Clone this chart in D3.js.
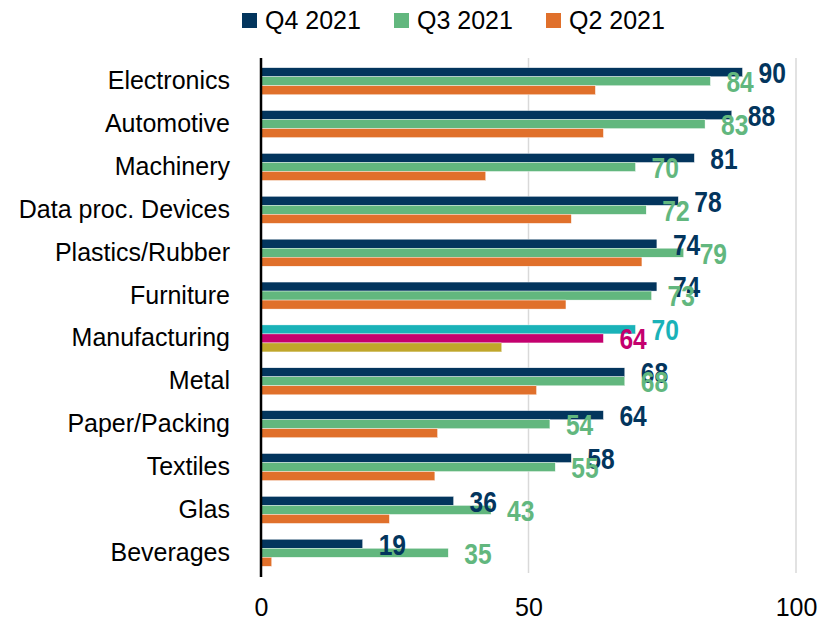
<!DOCTYPE html>
<html>
<head>
<meta charset="utf-8">
<script src="https://cdn.jsdelivr.net/npm/d3@7"></script>
<style>
  body { margin: 0; background: #fff; }
  svg text { font-family: "Liberation Sans", Arial, sans-serif; }
  .val { font-weight: bold; }
</style>
</head>
<body>
<div id="chart"></div>
<script>
var categories = ["Electronics", "Automotive", "Machinery", "Data proc. Devices", "Plastics/Rubber",
  "Furniture", "Manufacturing", "Metal", "Paper/Packing", "Textiles", "Glas", "Beverages"];
var seriesNames = ["Q4 2021", "Q3 2021", "Q2 2021"];
var q4 = [90, 88, 81, 78, 74, 74, 70, 68, 64, 58, 36, 19];
var q3 = [84, 83, 70, 72, 79, 73, 64, 68, 54, 55, 43, 35];
var q2 = [62.5, 64, 42, 58, 71.2, 57, 45, 51.5, 33, 32.5, 24, 2];
var xTicks = [0, 50, 100];

var colors = ["#03355d", "#62b77e", "#e0702b"];
var highlightCat = "Manufacturing";
var highlightColors = ["#1ab2b8", "#c4006e", "#c0a62b"];

var width = 819, height = 628;

var svg = d3.select("#chart").append("svg")
    .attr("width", width)
    .attr("height", height);

var x = d3.scaleLinear().domain([0, 100]).range([261, 796]);
var y = d3.scaleBand().domain(categories).range([57, 577])
    .paddingInner(0.37).paddingOuter(0.25);
var ySub = d3.scaleBand().domain(seriesNames).range([0, y.bandwidth()]);

var rows = categories.map(function(c, i) {
  return { cat: c, vals: [q4[i], q3[i], q2[i]] };
});

// gridlines
svg.append("g").selectAll("line")
    .data(xTicks.filter(function(t) { return t > 0; }))
    .enter().append("line")
    .attr("x1", function(d) { return x(d); })
    .attr("x2", function(d) { return x(d); })
    .attr("y1", 58).attr("y2", 573)
    .attr("stroke", "#d9d9d9")
    .attr("stroke-width", 1.5);

// x axis labels
var xAxis = d3.axisBottom(x).tickValues(xTicks).tickSize(0).tickPadding(0);
svg.append("g")
    .attr("transform", "translate(0,598)")
    .call(xAxis)
    .call(function(g) { g.select(".domain").remove(); })
    .selectAll("text")
    .attr("font-size", 25)
    .attr("font-family", "'Liberation Sans', Arial, sans-serif")
    .attr("fill", "#000")
    .attr("dy", "0.71em");

// bars
var groups = svg.selectAll(".grp")
    .data(rows)
    .enter().append("g")
    .attr("class", "grp")
    .attr("transform", function(d) { return "translate(0," + y(d.cat) + ")"; });

function barColor(d, i) {
  return d.cat === highlightCat ? highlightColors[i] : colors[i];
}

groups.selectAll("rect")
    .data(function(d) { return d.vals.map(function(v, i) { return { cat: d.cat, v: v, i: i }; }); })
    .enter().append("rect")
    .attr("x", x(0))
    .attr("y", function(d) { return ySub(seriesNames[d.i]); })
    .attr("width", function(d) { return x(d.v) - x(0); })
    .attr("height", ySub.bandwidth())
    .attr("fill", function(d) { return barColor(d, d.i); })
    .attr("stroke", "#fff")
    .attr("stroke-width", 0.4);

// value labels (Q4, Q3 only) - narrow bold look
groups.selectAll(".val")
    .data(function(d) { return d.vals.slice(0, 2).map(function(v, i) { return { cat: d.cat, v: v, i: i }; }); })
    .enter().append("text")
    .attr("class", "val")
    .attr("transform", function(d) {
      return "translate(" + (x(d.v) + 16) + "," + (ySub(seriesNames[d.i]) + ySub.bandwidth() / 2) + ") scale(0.82,1)";
    })
    .attr("dy", "0.36em")
    .attr("font-size", 30)
    .attr("fill", function(d) { return barColor(d, d.i); })
    .text(function(d) { return d.v; });

// category labels
var yAxis = d3.axisLeft(y).tickSize(0).tickPadding(0);
svg.append("g")
    .attr("transform", "translate(230,0)")
    .call(yAxis)
    .call(function(g) { g.select(".domain").remove(); })
    .selectAll("text")
    .attr("font-size", 25)
    .attr("font-family", "'Liberation Sans', Arial, sans-serif")
    .attr("fill", "#000");

// axis line
svg.append("line")
    .attr("x1", x(0)).attr("x2", x(0))
    .attr("y1", 58).attr("y2", 577)
    .attr("stroke", "#000")
    .attr("stroke-width", 2.5);

// legend
var legend = svg.append("g").selectAll("g")
    .data(seriesNames)
    .enter().append("g")
    .attr("transform", function(d, i) { return "translate(" + (242 + i * 152) + ",0)"; });
legend.append("rect")
    .attr("x", 0).attr("y", 13)
    .attr("width", 15).attr("height", 15)
    .attr("fill", function(d, i) { return colors[i]; });
legend.append("text")
    .attr("x", 23).attr("y", 29)
    .attr("font-size", 25)
    .attr("fill", "#000")
    .text(function(d) { return d; });
</script>
</body>
</html>
